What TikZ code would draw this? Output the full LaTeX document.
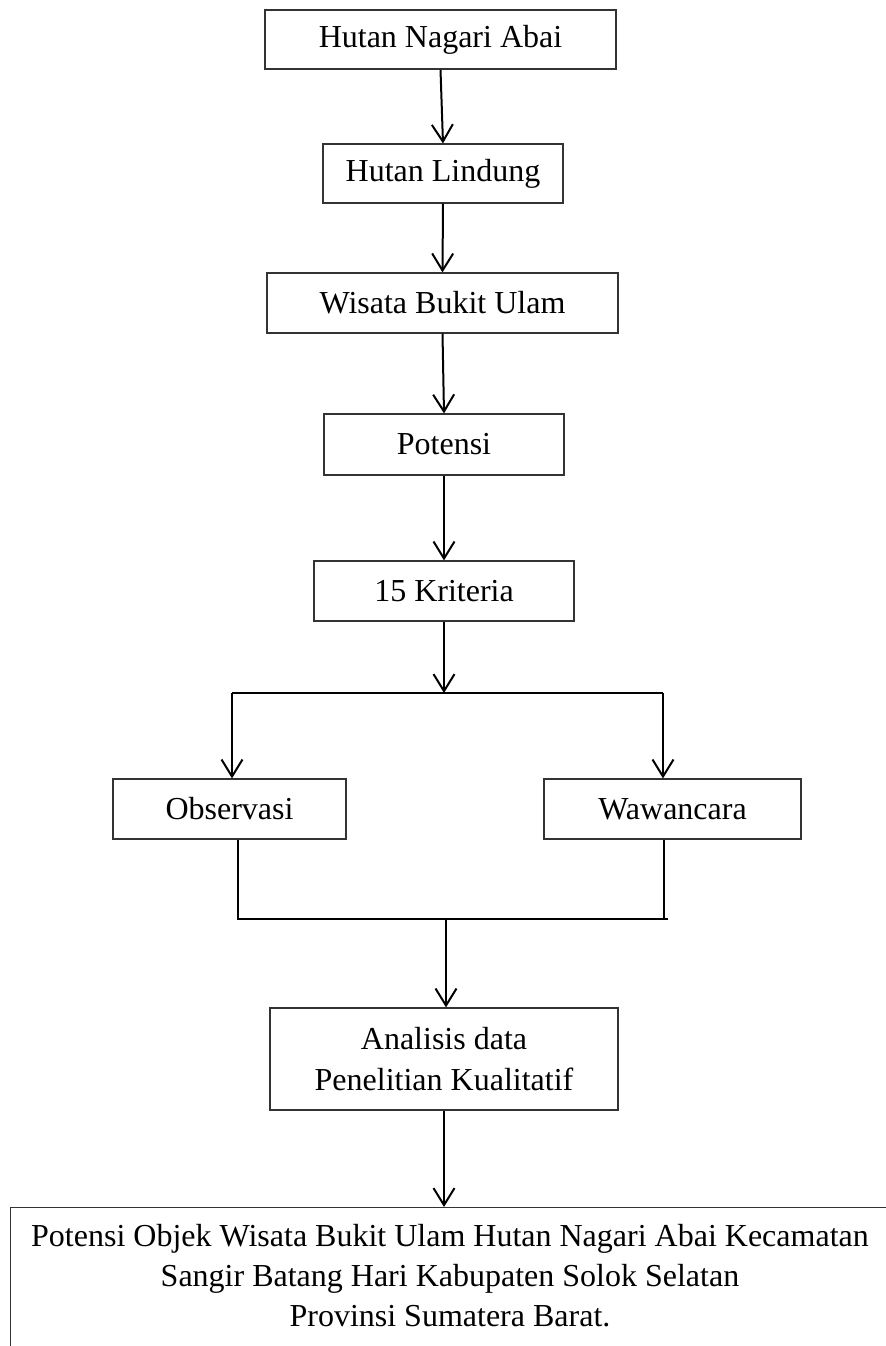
\documentclass[tikz,border=0pt]{standalone}
\usepackage{fontspec}
\setmainfont{Liberation Serif}
\usetikzlibrary{arrows.meta}
\tikzset{
kotak/.style={draw=black!80, line width=0.6pt, inner sep=0pt, align=center,
  font=\fontsize{16}{20.5}\selectfont},
tulisan/.style={inner sep=0pt, align=center, font=\fontsize{16}{20}\selectfont},
garis/.style={line width=1pt},
panah/.style={line width=1pt, -{Straight Barb[length=8.5pt,width=10.5pt]}}
}

\begin{document}
\begin{tikzpicture}[x=0.5pt,y=-0.5pt]
  \useasboundingbox (0,0) rectangle (886,1346);
  \clip (0,0) rectangle (886,1346);
  % main column
  \node[kotak, minimum width=175.5pt, minimum height=29.5pt] (nagari) at (440.5,39.5) {Hutan Nagari Abai};
  \node[kotak, minimum width=120pt, minimum height=29.5pt] (lindung) at (443,173.5) {Hutan Lindung};
  \node[kotak, minimum width=175.5pt, minimum height=30pt] (wisata) at (442.5,303) {Wisata Bukit Ulam};
  \node[kotak, minimum width=120pt, minimum height=30.5pt] (potensi) at (444,444.5) {Potensi};
  \node[kotak, minimum width=130pt, minimum height=30pt] (kriteria) at (444,591) {15 Kriteria};
  \draw[panah] (nagari.south) -- (lindung.north);
  \draw[panah] (lindung.south) -- (wisata.north);
  \draw[panah] (wisata.south) -- (potensi.north);
  \draw[panah] (potensi.south) -- (kriteria.north);
  % split into two methods
  \node[kotak, minimum width=116.5pt, minimum height=30pt] (observasi) at (229.5,809) {Observasi};
  \node[kotak, minimum width=128.5pt, minimum height=30pt] (wawancara) at (672.5,809) {Wawancara};
  \coordinate (bagi) at (444,693);
  \coordinate (bagiL) at (232,693);
  \coordinate (bagiR) at (663,693);
  \draw[panah] (kriteria.south) -- (bagi);
  \draw[garis] (bagiL) -- (bagiR);
  \draw[panah] (bagiL) -- (bagiL |- observasi.north);
  \draw[panah] (bagiR) -- (bagiR |- wawancara.north);
  % join again
  \node[kotak, minimum width=174pt, minimum height=51pt] (analisis) at (444,1059) {Analisis data\\Penelitian Kualitatif};
  \coordinate (gabungL) at (238,919);
  \coordinate (gabungR) at (664,919);
  \coordinate (gabung) at (446,919);
  \draw[garis] (gabungL |- observasi.south) -- (gabungL) -- ([xshift=2pt]gabungR) ;
  \draw[garis] (gabungR |- wawancara.south) -- (gabungR);
  \draw[panah] (gabung) -- (gabung |- analisis.north);
  % result
  \node[kotak, anchor=north west, minimum width=440pt, minimum height=100pt] (bingkai) at (10,1207) {};
  \node[tulisan] (hasil) at (450,1276) {Potensi Objek Wisata Bukit Ulam Hutan Nagari Abai Kecamatan\\
    Sangir Batang Hari Kabupaten Solok Selatan\\
    Provinsi Sumatera Barat.};
  \draw[panah] (analisis.south) -- (analisis.south |- bingkai.north);
\end{tikzpicture}
\end{document}
